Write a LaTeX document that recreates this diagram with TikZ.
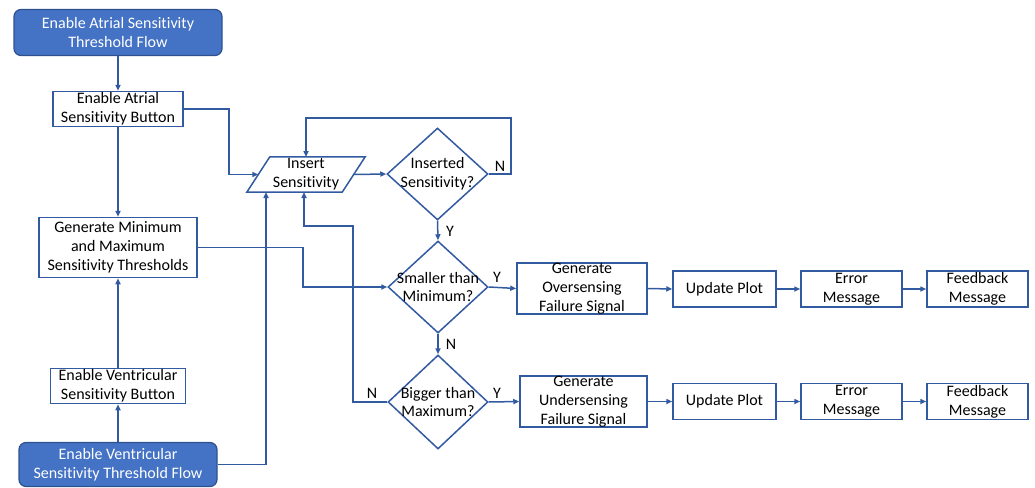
\documentclass[tikz,border=0pt]{standalone}
\usepackage{fontspec}
\setmainfont{Carlito}[Ligatures=NoCommon]
\usetikzlibrary{arrows.meta,shapes.geometric,calc}
\definecolor{edge}{RGB}{50,90,160}
\definecolor{startfill}{RGB}{68,114,196}
\definecolor{startline}{RGB}{47,82,143}
\begin{document}
\begin{tikzpicture}[x=1pt,y=-1pt,
  every node/.style={font=\fontsize{16}{18.8}\selectfont, align=center, inner sep=0pt},
  startbox/.style={draw=startline, fill=startfill, text=white, rounded corners=7pt, line width=1.2pt},
  procbox/.style={draw=edge, fill=white, line width=1.5pt},
  decbox/.style={draw=edge, shape=diamond, line width=1.5pt},
  conn/.style={draw=edge, line width=1.5pt, -{Triangle[length=6pt,width=5pt]}},
  tag/.style={text=black}]
\useasboundingbox (0,0) rectangle (1035,487);

% left column
\node[startbox, minimum width=208, minimum height=46] (startA) at (118,32.5) {Enable Atrial Sensitivity\\Threshold Flow};
\node[procbox, minimum width=130, minimum height=35] (btnA) at (118,109) {Enable Atrial\\Sensitivity Button};
\node[procbox, minimum width=158, minimum height=60] (gen) at (118,247.5) {Generate Minimum\\and Maximum\\Sensitivity Thresholds};
\node[procbox, minimum width=135, minimum height=35] (btnV) at (118,386) {Enable Ventricular\\Sensitivity Button};
\node[startbox, minimum width=198, minimum height=44] (startV) at (118,464.5) {Enable Ventricular\\Sensitivity Threshold Flow};

% input step (parallelogram)
\node[minimum width=95, minimum height=35] (ins) at (306,174.5) {Insert\\Sensitivity};
\draw[edge, line width=1.5pt] ($(ins.south west)+(-11.5,0)$) -- ($(ins.north west)+(11.5,0)$)
  -- ($(ins.north east)+(11.5,0)$) -- ($(ins.south east)+(-11.5,0)$) -- cycle;

% decisions
\node[decbox, minimum width=101, minimum height=92, label={[tag]center:Inserted\\Sensitivity?}] (d1) at (437.5,174) {};
\node[decbox, minimum width=100, minimum height=92, label={[tag]center:Smaller than\\Minimum?}] (d2) at (438,287) {};
\node[decbox, minimum width=100, minimum height=94, label={[tag]center:Bigger than\\Maximum?}] (d3) at (438,402) {};

% failure rows
\node[procbox, minimum width=130, minimum height=51] (over) at (582,288.5) {Generate\\Oversensing\\Failure Signal};
\node[procbox, minimum width=127, minimum height=51] (under) at (583.5,401.5) {Generate\\Undersensing\\Failure Signal};
\node[procbox, minimum width=103, minimum height=36] (up1) at (724.5,289) {Update Plot};
\node[procbox, minimum width=101, minimum height=36] (err1) at (851.5,289) {Error\\Message};
\node[procbox, minimum width=101, minimum height=36] (fb1) at (977.5,289) {Feedback\\Message};
\node[procbox, minimum width=103, minimum height=36] (up2) at (724.5,401.5) {Update Plot};
\node[procbox, minimum width=101, minimum height=36] (err2) at (851.5,401.5) {Error\\Message};
\node[procbox, minimum width=101, minimum height=36] (fb2) at (977.5,401.5) {Feedback\\Message};

% connectors
\draw[conn] (startA) -- (btnA);
\draw[conn] (btnA) -- (gen);
\draw[conn] (startV) -- (btnV);
\draw[conn] (btnV) -- (gen);
\draw[conn] (btnA.east) -- (229,109) |- (ins.west);
\draw[conn] (startV.east) -| (266,192);
\draw[conn] (gen.east) -- (303,247.5) |- (d2.west);
\draw[conn] (ins.east) -- (d1.west);
\draw[conn] (d1.east) -- (511,174) -- (511,118) -| (306,157);
\draw[conn] (d1.south) -- (d2.north);
\draw[conn] (d2.south) -- (d3.north);
\draw[conn] (d3.west) -- (353,402) -- (353,226) -| (304,192);
\draw[conn] (d2.east) -- (over.west);
\draw[conn] (d3.east) -- (under.west);
\draw[conn] (over.east) -- (up1.west);
\draw[conn] (up1) -- (err1);
\draw[conn] (err1) -- (fb1);
\draw[conn] (under.east) -- (up2.west);
\draw[conn] (up2) -- (err2);
\draw[conn] (err2) -- (fb2);

% branch labels
\node[tag] (nA) at (500,166) {N};
\node[tag] (yA) at (450,231) {Y};
\node[tag] (yB) at (497,277) {Y};
\node[tag] (nB) at (451,344) {N};
\node[tag] (nC) at (372,393) {N};
\node[tag] (yC) at (497,393) {Y};
\end{tikzpicture}
\end{document}
